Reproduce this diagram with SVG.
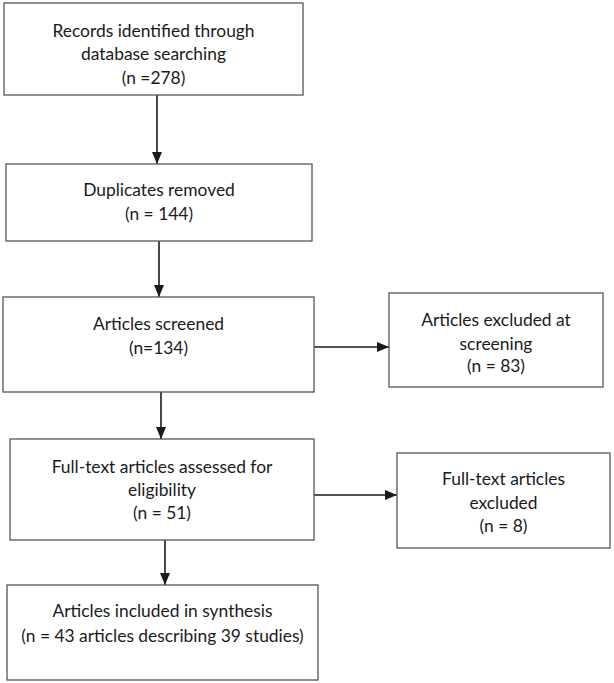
<svg xmlns="http://www.w3.org/2000/svg" width="614" height="683" viewBox="0 0 614 683">
<defs>
<style>
.box{fill:#fff;stroke:#555;stroke-width:1.3}
.t{font-family:Lato,"Open Sans","Liberation Sans",sans-serif;font-size:17.4px;fill:#1a1a1a;text-anchor:middle;dominant-baseline:central}
.c{stroke:#1a1a1a;stroke-width:1.6;fill:none}
</style>
<marker id="ah" markerUnits="userSpaceOnUse" markerWidth="12" markerHeight="12" viewBox="0 0 12 12" refX="12" refY="6" orient="auto">
<path d="M0,1 L12,6 L0,11 Z" fill="#1a1a1a"/>
</marker>
</defs>
<rect width="614" height="683" fill="#fff"/>
<g id="connectors">
<line class="c" x1="157" y1="95" x2="157" y2="164" marker-end="url(#ah)"/>
<line class="c" x1="159" y1="241" x2="159" y2="297" marker-end="url(#ah)"/>
<line class="c" x1="314" y1="347" x2="389" y2="347" marker-end="url(#ah)"/>
<line class="c" x1="161" y1="392" x2="161" y2="439" marker-end="url(#ah)"/>
<line class="c" x1="314" y1="495" x2="397" y2="495" marker-end="url(#ah)"/>
<line class="c" x1="165" y1="540" x2="165" y2="585" marker-end="url(#ah)"/>
</g>
<g id="records">
<rect class="box" x="4" y="3" width="299" height="92"/>
<text class="t" x="153.5" y="30">Records identified through</text>
<text class="t" x="153.5" y="53">database searching</text>
<text class="t" x="153.5" y="77">(n =278)</text>
</g>
<g id="duplicates">
<rect class="box" x="6" y="164" width="306" height="77"/>
<text class="t" x="159" y="189">Duplicates removed</text>
<text class="t" x="159" y="213">(n = 144)</text>
</g>
<g id="screened">
<rect class="box" x="3" y="297" width="311" height="95"/>
<text class="t" x="158.5" y="323">Articles screened</text>
<text class="t" x="158.5" y="347">(n=134)</text>
</g>
<g id="excluded-screening">
<rect class="box" x="389" y="293" width="214" height="94"/>
<text class="t" x="496" y="319">Articles excluded at</text>
<text class="t" x="496" y="343">screening</text>
<text class="t" x="496" y="365">(n = 83)</text>
</g>
<g id="fulltext">
<rect class="box" x="10" y="439" width="304" height="101"/>
<text class="t" x="162" y="466">Full-text articles assessed for</text>
<text class="t" x="162" y="489">eligibility</text>
<text class="t" x="162" y="512">(n = 51)</text>
</g>
<g id="fulltext-excluded">
<rect class="box" x="397" y="453" width="213" height="95"/>
<text class="t" x="503.5" y="478">Full-text articles</text>
<text class="t" x="503.5" y="502">excluded</text>
<text class="t" x="503.5" y="525">(n = 8)</text>
</g>
<g id="included">
<rect class="box" x="7" y="585" width="311" height="95"/>
<text class="t" x="162.5" y="610">Articles included in synthesis</text>
<text class="t" x="162.5" y="635">(n = 43 articles describing 39 studies)</text>
</g>
</svg>
